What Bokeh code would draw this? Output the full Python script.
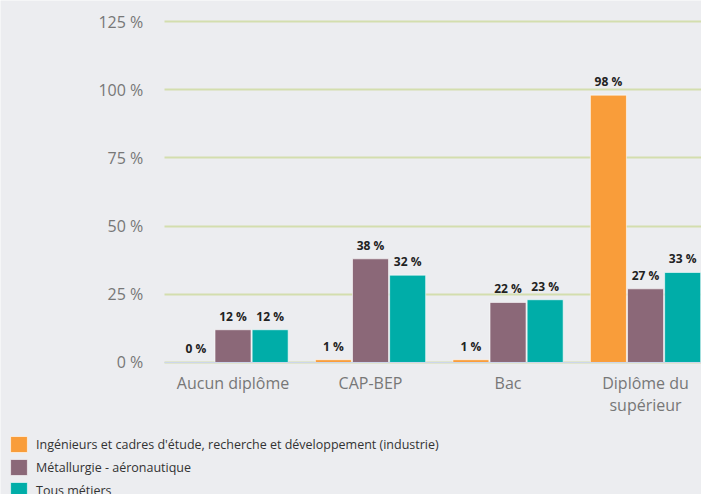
from bokeh.plotting import figure
from bokeh.models import (ColumnDataSource, Range1d, FixedTicker, PrintfTickFormatter,
                          Legend, LegendItem, LinearAxis)
from bokeh.core.properties import value
from bokeh.embed import file_html
from bokeh.resources import INLINE

categories = ["Aucun diplôme", "CAP-BEP", "Bac", "Diplôme du\nsupérieur"]
series_names = ["Ingénieurs et cadres d'étude, recherche et développement (industrie)",
                "Métallurgie - aéronautique",
                "Tous métiers"]
ingenieurs = [0, 1, 1, 98]
metallurgie = [12, 38, 22, 27]
tous = [12, 32, 23, 33]
y_ticks = [0, 25, 50, 75, 100, 125]

colors = ["#f99d3a", "#8b6878", "#00ada8"]
offsets = [-0.27, 0.0, 0.27]
series = [ingenieurs, metallurgie, tous]

BG = "#ecedf0"
FONT = "Open Sans"
GRID = "#d3deae"

# Whole canvas is the frame; axes are pinned at data locations so the legend
# can sit at the bottom-left like the original.
X0, X1 = -1.691, 3.407
Y0, Y1 = -48.4, 132.7

p = figure(width=701, height=494, output_backend="svg", toolbar_location=None,
           x_range=Range1d(X0, X1), y_range=Range1d(Y0, Y1),
           x_axis_location=None, y_axis_location=None,
           min_border=0, min_border_left=0, min_border_right=0,
           min_border_top=0, min_border_bottom=0,
           background_fill_color=BG, border_fill_color=BG)
p.outline_line_color = None

# horizontal grid lines limited to the plotting area
p.xgrid.grid_line_color = None
try:
    p.ygrid.ticker = FixedTicker(ticks=y_ticks)
    p.ygrid.cross_bounds = (-0.5, X1)
    p.ygrid.grid_line_color = GRID
    p.ygrid.grid_line_width = 2
except AttributeError:
    p.ygrid.grid_line_color = None
    p.segment(x0=[-0.5] * len(y_ticks), x1=[X1] * len(y_ticks), y0=y_ticks, y1=y_ticks,
              line_color=GRID, line_width=2, level="underlay")

renderers = []
for vals, col, off in zip(series, colors, offsets):
    xs = [i + off for i in range(len(categories))]
    src = ColumnDataSource(dict(x=xs, top=vals, lab=[f"{v} %" for v in vals]))
    r = p.vbar(x="x", top="top", width=0.262, source=src, fill_color=col,
               line_color="white", line_width=0.6)
    renderers.append(r)
    p.text(x="x", y="top", text="lab", source=src, text_align="center",
           text_baseline="bottom", y_offset=-5, text_font=value(FONT),
           text_font_style="bold", text_font_size="12px", text_color="#222222")

# y axis pinned at the left edge of the plotting area
yaxis = LinearAxis(fixed_location=-0.5, ticker=FixedTicker(ticks=y_ticks),
                   formatter=PrintfTickFormatter(format="%d %%"))
yaxis.axis_line_color = None
yaxis.major_tick_line_color = None
yaxis.minor_tick_line_color = None
yaxis.major_tick_out = 0
yaxis.major_tick_in = 0
yaxis.major_label_standoff = 21
yaxis.major_label_text_font = FONT
yaxis.major_label_text_font_size = "16px"
yaxis.major_label_text_color = "#777777"
p.add_layout(yaxis, "left")

# x axis pinned at y = 0
xaxis = LinearAxis(fixed_location=0, ticker=FixedTicker(ticks=list(range(len(categories)))),
                   bounds=(-0.5, X1))
xaxis.major_label_overrides = {i: c for i, c in enumerate(categories)}
xaxis.axis_line_color = "#ccd6eb"
xaxis.axis_line_width = 1
xaxis.major_tick_line_color = None
xaxis.minor_tick_line_color = None
xaxis.major_tick_out = 0
xaxis.major_tick_in = 0
xaxis.major_label_standoff = 10
xaxis.major_label_text_font = FONT
xaxis.major_label_text_font_size = "16px"
xaxis.major_label_text_line_height = 1.0
xaxis.major_label_text_color = "#777777"
p.add_layout(xaxis, "below")

legend = Legend(items=[LegendItem(label=n, renderers=[r]) for n, r in zip(series_names, renderers)],
                location=(8, -6), orientation="vertical",
                glyph_width=21, glyph_height=20, label_height=20, spacing=3,
                padding=0, margin=0, label_standoff=7,
                label_text_font=FONT, label_text_font_size="12.5px", label_text_color="#333333",
                background_fill_alpha=0, border_line_color=None)
p.add_layout(legend)

open("out.html", "w").write(file_html(p, INLINE))
